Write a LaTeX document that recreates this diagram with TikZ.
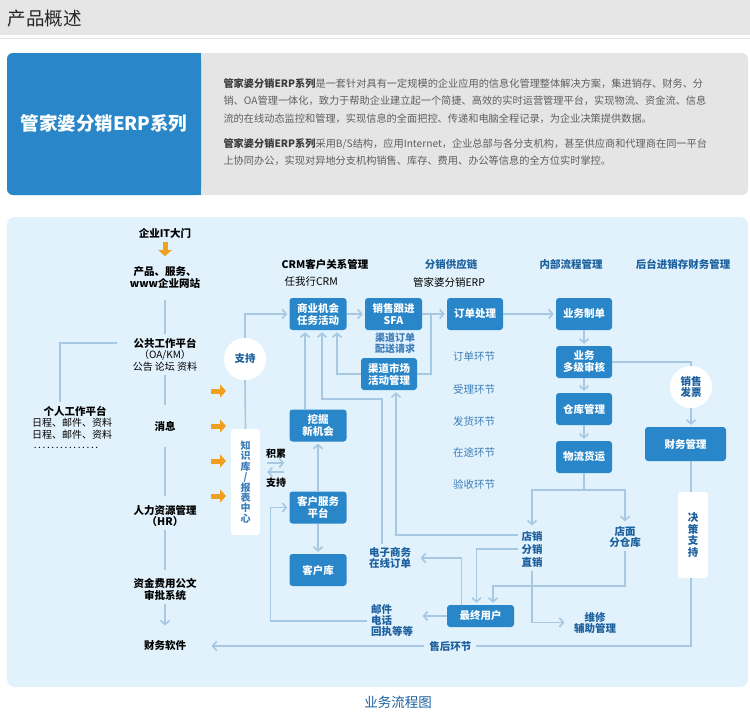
\documentclass[tikz,border=0pt]{standalone}
\usepackage{fontspec}
\setmainfont{Noto Sans CJK SC}
\usetikzlibrary{arrows.meta, positioning}

\definecolor{boxblue}{RGB}{40,134,201}
\definecolor{lnkblue}{RGB}{166,200,226}
\definecolor{panel}{RGB}{225,242,252}
\definecolor{txtblue}{RGB}{28,96,158}
\definecolor{lblue}{RGB}{60,125,186}
\definecolor{orng}{RGB}{240,160,30}
\definecolor{hdgray}{RGB}{230,230,230}
\definecolor{infgray}{RGB}{229,229,229}
\definecolor{ptext}{RGB}{95,95,95}
\definecolor{pdark}{RGB}{60,60,60}

\begin{document}
\begin{tikzpicture}[x=1pt, y=-1pt,
  box/.style={fill=boxblue, rounded corners=3pt, text=white, align=center,
    font=\bfseries\fontsize{10.5}{12}\selectfont,
    minimum width=57pt, minimum height=32pt, inner sep=1pt},
  wbox/.style={fill=white, rounded corners=3pt, align=center, inner sep=0pt},
  circ/.style={circle, fill=white, minimum size=42pt, inner sep=0pt, align=center,
    text=txtblue, font=\bfseries\fontsize{10.5}{11}\selectfont},
  lbl/.style={align=center, font=\bfseries\fontsize{10.5}{11.5}\selectfont},
  blbl/.style={lbl, text=txtblue},
  lnk/.style={draw=lnkblue, line width=1.6pt},
  arr/.style={lnk, -{Straight Barb[length=4pt,width=9pt]}, shorten >=2pt},
  ora/.style={draw=orng, line width=5pt, -{Triangle[length=6pt,width=13pt]}}]
\useasboundingbox (0,0) rectangle (750,715);
\fill[white] (0,0) rectangle (750,715);

% header
\fill[hdgray] (0,0) rectangle (750,35);
\draw[hdgray] (0,38) -- (750,38);
\node[anchor=west, text=black!85, font=\fontsize{18.5}{20}\selectfont] (hd) at (4,19) {产品概述};

% intro box
\fill[infgray, rounded corners=6pt] (7,53) rectangle (748,195);
\fill[boxblue, rounded corners=6pt] (7,53) rectangle (201,195);
\fill[boxblue] (190,53) rectangle (201,195);
\node[text=white, font=\bfseries\fontsize{18.5}{20}\selectfont] (ttl) at (104,123) {管家婆分销ERP系列};
\node[anchor=west, align=left, text=ptext, font=\fontsize{10.2}{17.5}\selectfont] (p1) at (220,101)
  {{\bfseries\color{pdark}管家婆分销ERP系列}是一套针对具有一定规模的企业应用的信息化管理整体解决方案，集进销存、财务、分\\销、OA管理一体化，致力于帮助企业建立起一个简捷、高效的实时运营管理平台，实现物流、资金流、信息\\流的在线动态监控和管理，实现信息的全面把控、传递和电脑全程记录，为企业决策提供数据。};
\node[anchor=west, align=left, text=ptext, font=\fontsize{10.2}{17.5}\selectfont] (p2) at (220,152)
  {{\bfseries\color{pdark}管家婆分销ERP系列}采用B/S结构，应用Internet，企业总部与各分支机构，甚至供应商和代理商在同一平台\\上协同办公，实现对异地分支机构销售、库存、费用、办公等信息的全方位实时掌控。};

% flow panel
\fill[panel, rounded corners=8pt] (7,217) rectangle (748,687);

% left column
\node[lbl] (it) at (165,233) {企业IT大门};
\node[lbl] (wz) at (165,277.5) {产品、服务、\\www企业网站};
\node[lbl] (ggt) at (165,343) {公共工作平台};
\node[align=center, font=\fontsize{10}{11.5}\selectfont] (ggs) at (165,360.5) {（OA/KM）\\公告 论坛 资料};
\node[lbl] (xx) at (165,426) {消息};
\node[lbl] (hr) at (165,516) {人力资源管理\\（HR）};
\node[lbl] (zj) at (165,589.5) {资金费用公文\\审批系统};
\node[lbl] (cr) at (165,646) {财务软件};
\node[lbl] (grt) at (75,411) {个人工作平台};
\node[align=center, font=\fontsize{10}{12}\selectfont] (grs) at (72,429) {日程、邮件、资料\\日程、邮件、资料};
\node[font=\fontsize{10}{12}\selectfont] (dots) at (66,448) {\makebox[70pt]{\dotfill}};

\draw[ora, shorten >=7pt] (it.south) -- (wz.north);
\draw[lnk, shorten <=8pt] (wz) -- (ggt);
\draw[lnk, shorten >=12pt] (ggs) -- (xx);
\draw[lnk, shorten <=12pt, shorten >=6pt] (xx) -- (hr);
\draw[lnk, shorten >=5pt] (hr) -- (zj);
\draw[arr, shorten >=12pt] (zj) -- (cr);
\draw[lnk, shorten <=13pt] (ggt.west) -| ([xshift=-15pt]grt.north);
\foreach \y in {391,426,461,496}
  \draw[ora] (211,\y) -- (226,\y);

% support column
\node[circ] (zc) at (245,359) {支持};
\node[wbox, minimum width=29pt, minimum height=106pt, text=lblue,
  font=\bfseries\fontsize{10}{10.2}\selectfont] (zs) at (245.5,482) {知\\识\\库\\/\\报\\表\\中\\心};
\node[font=\bfseries\fontsize{10}{11}\selectfont] (jl) at (276,454) {积累};
\node[font=\bfseries\fontsize{10}{11}\selectfont] (zc2) at (276,483) {支持};

% headings
\node[lbl] (crm) at (325,264) {CRM客户关系管理};
\node[anchor=west, font=\fontsize{10.5}{12}\selectfont] (rwx) at (281,282) {任我行CRM};
\node[blbl] (fx) at (451,264) {分销供应链};
\node[font=\fontsize{10.5}{12}\selectfont] (gjp) at (449,282) {管家婆分销ERP};
\node[blbl] (nb) at (571,264) {内部流程管理};
\node[blbl] (ht) at (683,264) {后台进销存财务管理};

% boxes
\node[box] (sj) at (318,314) {商业机会\\任务活动};
\node[box] (xs) at (393.5,314) {销售跟进\\SFA};
\node[box, minimum width=56pt] (qd) at (389,374) {渠道市场\\活动管理};
\node[box, minimum width=56pt] (dd) at (475,314) {订单处理};
\node[box, minimum width=56pt] (zd) at (584,314) {业务制单};
\node[box, minimum width=56pt] (sh) at (584,362) {业务\\多级审核};
\node[box, minimum width=56pt] (ck) at (584,409) {仓库管理};
\node[box, minimum width=56pt] (wl) at (584,457) {物流货运};
\node[box, minimum width=81pt, minimum height=34pt] (cw) at (685.5,444) {财务管理};
\node[box] (wj) at (318,425.5) {挖掘\\新机会};
\node[box] (kf) at (318,507.5) {客户服务\\平台};
\node[box] (kk) at (318,570) {客户库};
\node[box, minimum width=67pt, minimum height=22pt] (zy) at (480.5,616) {最终用户};
\node[circ] (fp) at (691,387) {销售\\发票};
\node[wbox, minimum width=30pt, minimum height=86pt, text=txtblue,
  font=\bfseries\fontsize{10.5}{11.5}\selectfont] (jc) at (693,535) {决\\策\\支\\持};

% blue labels
\node[align=center, text=lblue, font=\bfseries\fontsize{10}{11}\selectfont] (qp) at (395,343.5) {渠道订单\\配送请求};
\node[text=lblue, font=\fontsize{10.5}{12}\selectfont] (h1) at (474,357) {订单环节};
\node[text=lblue, font=\fontsize{10.5}{12}\selectfont] (h2) at (474,389) {受理环节};
\node[text=lblue, font=\fontsize{10.5}{12}\selectfont] (h3) at (474,421) {发货环节};
\node[text=lblue, font=\fontsize{10.5}{12}\selectfont] (h4) at (474,452) {在途环节};
\node[text=lblue, font=\fontsize{10.5}{12}\selectfont] (h5) at (474,484) {验收环节};
\node[blbl, font=\bfseries\fontsize{10.5}{10.5}\selectfont] (ds) at (390,558) {电子商务\\在线订单};
\node[blbl, align=left, font=\bfseries\fontsize{10.5}{11}\selectfont] (yj) at (392,621) {邮件\\电话\\回执等等};
\node[blbl, font=\bfseries\fontsize{10.5}{13}\selectfont] (dx) at (532,549) {店销\\分销\\直销};
\node[blbl, font=\bfseries\fontsize{10.5}{10.5}\selectfont] (fm) at (625,537) {店面\\分仓库};
\node[blbl, font=\bfseries\fontsize{10.5}{11}\selectfont] (wx) at (595,622.5) {维修\\辅助管理};

% connectors
\coordinate (m1) at (431,314);
\coordinate (m2) at (382,399);
\coordinate (m3) at (584,490);
\coordinate (m4) at (493,586);
\draw[arr] (zc.north) |- (sj.west);
\draw[lnk] (zc.south) -- (zs.north);
\draw[arr] (sj) -- (xs);
\draw[lnk] (xs.east) -- (m1);
\draw[lnk] (qd.east) -| (m1);
\draw[arr] (m1) -- (dd.west);
\draw[arr] (qd.west) -| ([xshift=19pt]sj.south);
\draw[arr] ([xshift=-13pt]wj.north) -- ([xshift=-13pt]sj.south);
\draw[arr] (ds.north -| m2) -- (m2) -| ([xshift=4pt]sj.south);
\draw[arr] ([yshift=14pt]dx.west) -| ([xshift=7pt]qd.south);
\draw[arr] (dd) -- (zd);
\draw[arr] (zd) -- (sh);
\draw[arr] (sh) -- (ck);
\draw[arr] (ck) -- (wl);
\draw[lnk] (wl.south) -- (m3);
\draw[arr] (m3) -| (dx.north);
\draw[arr] (m3) -| (fm.north);
\draw[lnk] (sh.east) -| (fp.north);
\draw[arr] (fp.south) -- (fp.south |- cw.north);
\draw[lnk] (cw.south -| fp.south) -- (jc.north -| fp.south);
\draw[arr, shorten >=22pt] (jc.south -| fp.south) |- (cr.east)
  node[pos=0.74, fill=panel, inner xsep=5pt, text=txtblue, font=\bfseries\fontsize{10.5}{12}\selectfont] (sh2) {售后环节};
\draw[arr] (dx.west) -| ([xshift=-4pt]zy.north);
\draw[arr] (fm.south) |- (m4) -- (m4 |- zy.north);
\draw[arr, shorten >=6pt] ([xshift=-19pt]zy.north) |- (ds.east);
\draw[arr, shorten >=6pt] (zy.west) -- (yj.east |- zy.west);
\draw[arr] (yj.west) -| ([xshift=-19pt]kf.west) -- (kf.west);
\draw[arr, shorten >=6pt] (dx.south) |- (wx.west);
\draw[arr] (kf) -- (wj);
\draw[arr] (kf) -- (kk);
\draw[arr, shorten <=7pt, shorten >=5pt] (zs.east |- 0,463) -- (kf.west |- 0,463);
\draw[arr, shorten <=5pt, shorten >=7pt] (kf.west |- 0,472) -- (zs.east |- 0,472);

% caption
\node[text=txtblue, font=\fontsize{13.5}{15}\selectfont] (cap) at (398,702) {业务流程图};
\end{tikzpicture}
\end{document}
